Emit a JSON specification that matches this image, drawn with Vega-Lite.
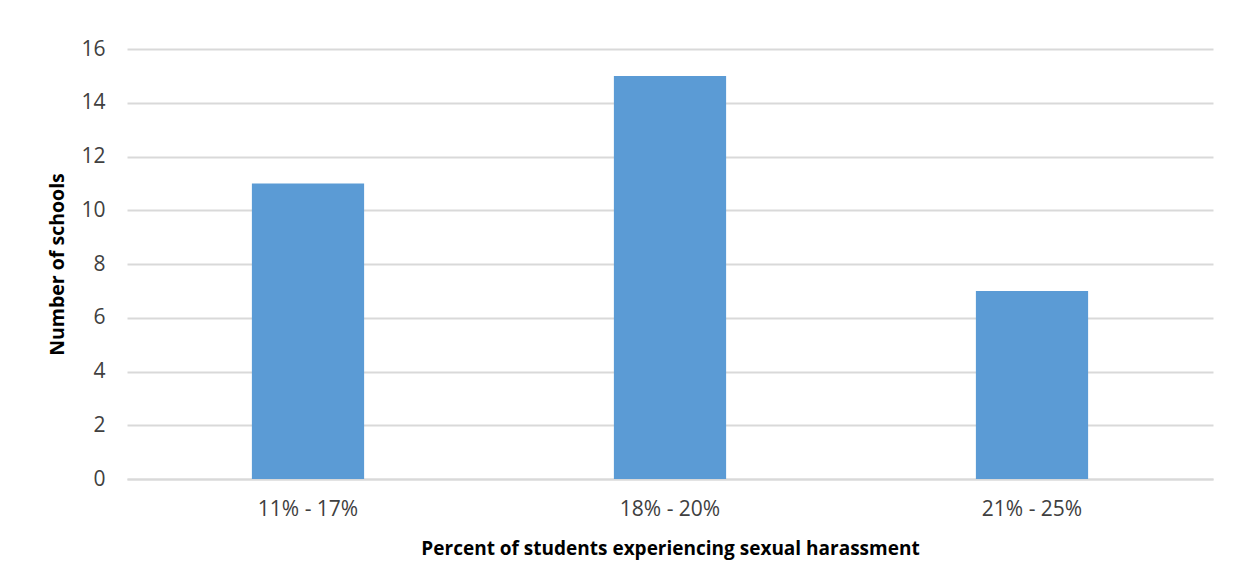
{
  "$schema": "https://vega.github.io/schema/vega-lite/v6.json",
  "autosize": "none",
  "width": 1086,
  "height": 430,
  "padding": {"left": 127, "top": 49, "right": 44, "bottom": 103},
  "background": "white",
  "data": {"values": [
    {"range": "11% - 17%", "schools": 11},
    {"range": "18% - 20%", "schools": 15},
    {"range": "21% - 25%", "schools": 7}
  ]},
  "mark": {"type": "bar", "color": "#5B9BD5", "width": {"band": 0.31}},
  "encoding": {
    "x": {
      "field": "range", "type": "nominal", "sort": null,
      "scale": {"paddingInner": 0, "paddingOuter": 0},
      "axis": {
        "title": "Percent of students experiencing sexual harassment",
        "labelAngle": 0, "labelFont": "Open Sans", "labelFontSize": 21, "labelColor": "#404040",
        "labelPadding": 19, "ticks": false, "domain": true, "domainColor": "#D9D9D9", "domainWidth": 2,
        "titleFont": "Open Sans", "titleFontSize": 19, "titleFontWeight": "bold", "titleColor": "#000000",
        "titlePadding": 20
      }
    },
    "y": {
      "field": "schools", "type": "quantitative",
      "scale": {"domain": [0, 16]},
      "axis": {
        "title": "Number of schools", "values": [0, 2, 4, 6, 8, 10, 12, 14, 16],
        "labelFont": "Open Sans", "labelFontSize": 21, "labelColor": "#404040", "labelPadding": 22,
        "ticks": false, "domain": false, "gridColor": "#D9D9D9", "gridWidth": 2,
        "titleFont": "Open Sans", "titleFontSize": 19.5, "titleFontWeight": "bold", "titleColor": "#000000",
        "titlePadding": 13
      }
    }
  },
  "config": {"view": {"stroke": null}}
}
